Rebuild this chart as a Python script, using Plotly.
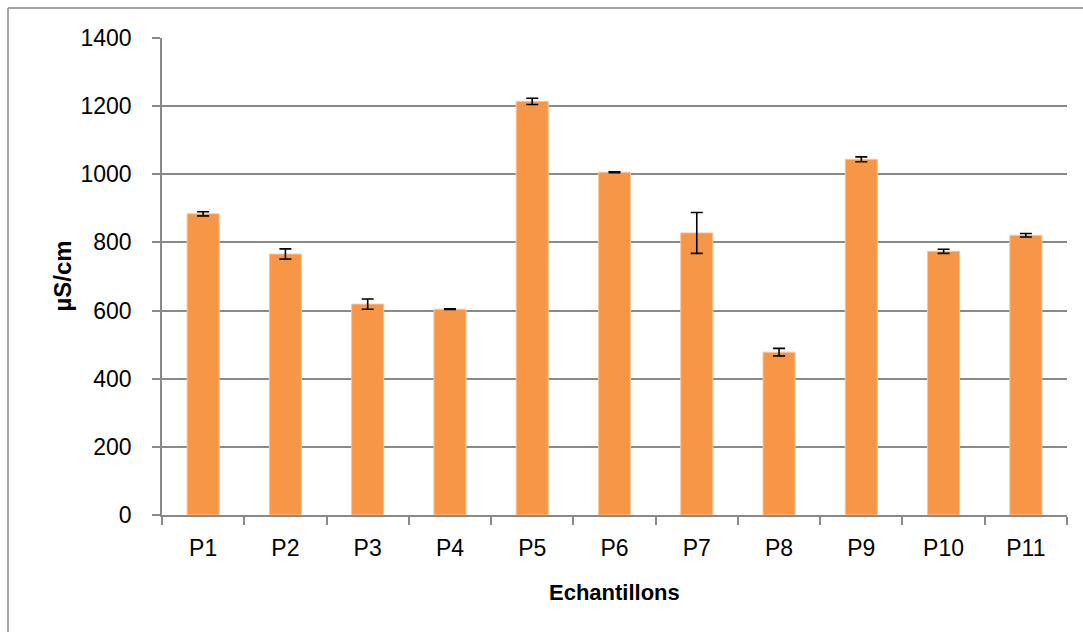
import plotly.graph_objects as go

categories = ["P1", "P2", "P3", "P4", "P5", "P6", "P7", "P8", "P9", "P10", "P11"]
values = [884, 766, 619, 604, 1214, 1006, 828, 478, 1044, 774, 821]
errors = [6, 15, 15, 1, 9, 1, 60, 11, 7, 6, 5]
y_ticks = [0, 200, 400, 600, 800, 1000, 1200, 1400]

W, H = 1083, 632
L, R, T, B = 162, 16, 38, 117
pw, ph = W - L - R, H - T - B

def px_x(p):
    return (p - L) / pw

def px_y(p):
    return (H - B - p) / ph

font = "Liberation Sans"
grid = "#898989"

fig = go.Figure()
fig.add_trace(go.Bar(
    x=categories, y=values,
    marker=dict(color="#F79646", line=dict(color="#FAC59A", width=1)),
    error_y=dict(type="data", array=errors, visible=True, color="black", thickness=1.6, width=6),
    hoverinfo="x+y",
))

fig.update_layout(
    width=W, height=H,
    margin=dict(l=L, r=R, t=T, b=B, pad=0),
    paper_bgcolor="white", plot_bgcolor="white",
    bargap=0.61,
    showlegend=False,
    font=dict(family=font, size=23, color="black"),
    xaxis=dict(
        type="category", showgrid=False, showline=True, linecolor=grid, linewidth=1.5,
        ticks="outside", ticklen=8, tickcolor=grid, tickwidth=1.5, tickson="boundaries",
        ticklabelstandoff=12, tickfont=dict(family=font, size=23, color="black"),
    ),
    yaxis=dict(
        range=[0, 1400], tickvals=y_ticks, showgrid=True, gridcolor=grid, gridwidth=1.5,
        showline=True, linecolor=grid, linewidth=1.5, zeroline=False,
        ticks="outside", ticklen=8, tickcolor=grid, tickwidth=1.5,
        ticklabelstandoff=16, tickfont=dict(family=font, size=23, color="black"),
    ),
    annotations=[
        dict(text="<b>µS/cm</b>", xref="paper", yref="paper", x=px_x(62), y=0.5,
             textangle=-90, showarrow=False, xanchor="center", yanchor="middle",
             font=dict(family=font, size=24, color="black")),
        dict(text="<b>Echantillons</b>", xref="paper", yref="paper", x=0.5, y=px_y(592),
             showarrow=False, xanchor="center", yanchor="middle",
             font=dict(family=font, size=22, color="black")),
    ],
    shapes=[
        dict(type="line", xref="paper", yref="paper", x0=px_x(8), x1=px_x(W + 5),
             y0=px_y(8), y1=px_y(8), line=dict(color=grid, width=1.5)),
        dict(type="line", xref="paper", yref="paper", x0=px_x(8), x1=px_x(8),
             y0=px_y(8), y1=px_y(H + 5), line=dict(color=grid, width=1.5)),
    ],
)

fig.write_html(
    "out.html",
    config={"displayModeBar": False},
    post_script="document.body.style.margin='0';document.body.style.overflow='hidden';",
)
